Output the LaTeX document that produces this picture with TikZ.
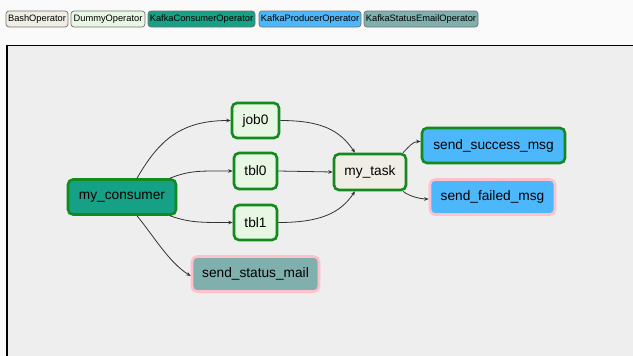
\documentclass[tikz,border=0pt]{standalone}
\usepackage{fontspec}
\setmainfont{Liberation Sans}
\usetikzlibrary{arrows.meta}
\definecolor{pagebg}{HTML}{FAFAFA}
\definecolor{canvasbg}{HTML}{EEEEEE}
\definecolor{bashc}{HTML}{F0EDE4}
\definecolor{dummyc}{HTML}{E8F7E4}
\definecolor{consumerc}{HTML}{16A085}
\definecolor{producerc}{HTML}{4DB7FC}
\definecolor{statusc}{HTML}{7FB0AD}
\definecolor{okborder}{HTML}{138A1E}
\definecolor{pinkborder}{HTML}{FFC0CB}
\definecolor{edgec}{HTML}{333333}
\tikzset{
  legendbox/.style={draw=black!55, line width=0.7pt, rounded corners=3pt,
    minimum height=16pt, inner sep=0pt, font=\fontsize{9.3}{10}\selectfont},
  taskbox/.style={rounded corners=5pt, line width=2.6pt, inner sep=0pt,
    minimum height=35pt, font=\fontsize{13.7}{15}\selectfont},
  okbox/.style={taskbox, draw=okborder},
  pinkbox/.style={taskbox, draw=pinkborder},
  flow/.style={draw=edgec, line width=0.8pt, -{Stealth[length=4.5pt,width=3.6pt]}}
}
\begin{document}
\begin{tikzpicture}[x=1pt, y=-1pt]
  % page and graph canvas
  \fill[pagebg] (0,0) rectangle (633,356);
  \useasboundingbox (0,0) rectangle (633,356);
  \filldraw[fill=canvasbg, draw=black, line width=1.6pt] (7,45.5) rectangle (640,362);

  % operator legend
  \node[legendbox, fill=bashc, minimum width=62pt] (lbash) at (37,19) {BashOperator};
  \node[legendbox, fill=dummyc, minimum width=74pt] (ldummy) at (108,19) {DummyOperator};
  \node[legendbox, fill=consumerc, minimum width=107pt] (lcons) at (201.5,19) {KafkaConsumerOperator};
  \node[legendbox, fill=producerc, minimum width=102pt] (lprod) at (310,19) {KafkaProducerOperator};
  \node[legendbox, fill=statusc, minimum width=114pt] (lstat) at (421,19) {KafkaStatusEmailOperator};

  % tasks
  \node[okbox, fill=consumerc, minimum width=108pt] (cons) at (122,197) {my\_consumer};
  \node[okbox, fill=dummyc, minimum width=47pt, minimum height=35pt] (job0) at (255.5,120.5) {job0};
  \node[okbox, fill=dummyc, minimum width=43pt, minimum height=36pt] (tbl0) at (255.5,171) {tbl0};
  \node[okbox, fill=dummyc, minimum width=43pt, minimum height=35pt] (tbl1) at (255.5,222.5) {tbl1};
  \node[okbox, fill=bashc, minimum width=72pt, minimum height=36pt] (task) at (370,172) {my\_task};
  \node[okbox, fill=producerc, minimum width=143pt] (succ) at (493.5,145.5) {send\_success\_msg};
  \node[pinkbox, fill=producerc, minimum width=125pt] (fail) at (492.5,197) {send\_failed\_msg};
  \node[pinkbox, fill=statusc, minimum width=127pt] (mail) at (255.5,274) {send\_status\_mail};

  % dependencies
  \draw[flow] ([xshift=15pt]cons.north) .. controls +(22,-38) and +(-50,0) .. (job0.west);
  \draw[flow] ([xshift=48pt]cons.north) .. controls +(20,-8) and +(-32,0) .. (tbl0.west);
  \draw[flow] ([xshift=48pt]cons.south) .. controls +(20,7) and +(-32,0) .. (tbl1.west);
  \draw[flow] ([xshift=15pt]cons.south) .. controls +(18,22) and +(-22,-14) .. ([yshift=-2pt]mail.west);
  \draw[flow] (job0.east) .. controls +(42,0) and +(-15,-22) .. ([xshift=-15pt]task.north);
  \draw[flow] (tbl0.east) -- (task.west);
  \draw[flow] (tbl1.east) .. controls +(42,0) and +(-15,22) .. ([xshift=-15pt]task.south);
  \draw[flow] ([xshift=33pt]task.north) .. controls +(6,-6) and +(-8,0) .. ([yshift=4pt]succ.west);
  \draw[flow] ([xshift=33pt]task.south) .. controls +(6,5) and +(-8,0) .. ([yshift=-2pt]fail.west);
\end{tikzpicture}
\end{document}
